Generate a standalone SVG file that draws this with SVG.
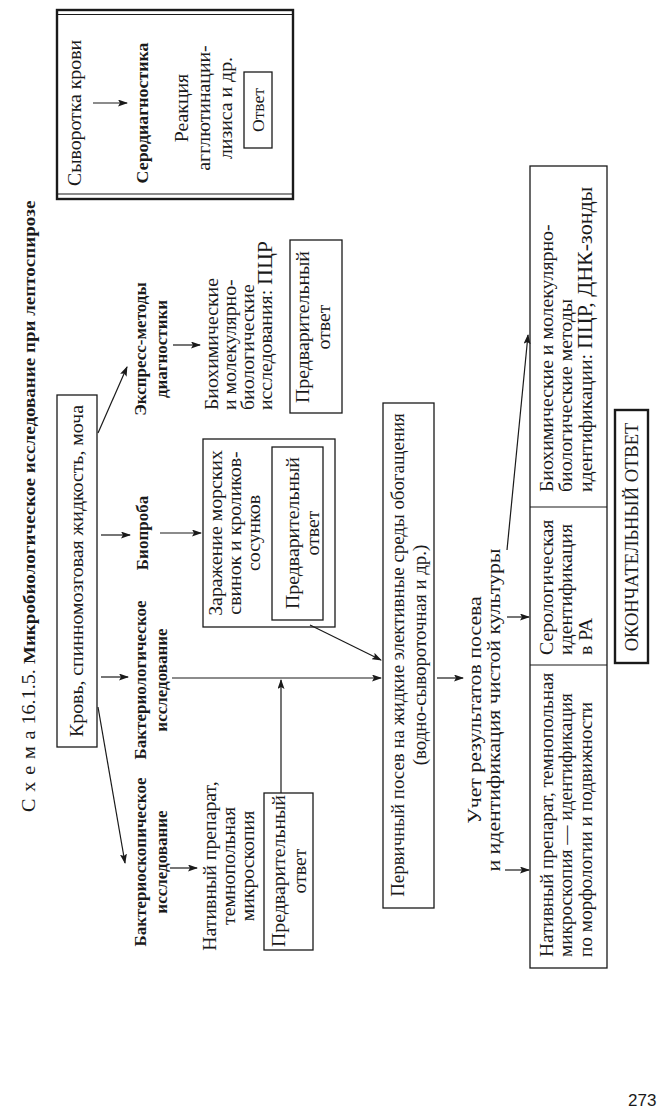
<svg xmlns="http://www.w3.org/2000/svg" width="669" height="1117" viewBox="0 0 669 1117">
<defs>
<marker id="ah" markerUnits="userSpaceOnUse" markerWidth="10" markerHeight="7" refX="9" refY="3.5" orient="auto">
<path d="M0,0 L10,3.5 L0,7 L2,3.5 z" fill="#1a1a1a"/>
</marker>
<style>
.r{font-family:"Liberation Serif","DejaVu Serif",serif;font-size:18px;fill:#1a1a1a}
.b{font-family:"Liberation Serif","DejaVu Serif",serif;font-size:17px;font-weight:bold;fill:#1a1a1a}
.s{font-size:16px}
.big{font-size:20px}
.box{fill:none;stroke:#1a1a1a;stroke-width:1.3}
.thick{fill:none;stroke:#1a1a1a;stroke-width:2.4}
.c line{stroke:#1a1a1a;stroke-width:1.2;marker-end:url(#ah)}
</style>
</defs>
<rect width="669" height="1117" fill="#fff"/>

<g id="title">
<text class="r" transform="translate(35,812) rotate(-90) scale(1.12,1)"><tspan letter-spacing="0.8">С х е м а</tspan> 16.1.5. <tspan class="b" style="font-size:17px">Микробиологическое исследование при лептоспирозе</tspan></text>
</g>

<g id="serodiagnostics">
<rect class="thick" x="57" y="10" width="236" height="189"/>
<line x1="57" y1="14.5" x2="293" y2="14.5" stroke="#1a1a1a" stroke-width="1.2"/>
<line x1="57" y1="194" x2="293" y2="194" stroke="#1a1a1a" stroke-width="1.2"/>
<text class="r" text-anchor="middle" transform="translate(81,113) rotate(-90) scale(1.1,1)">Сыворотка крови</text>
<text class="b" text-anchor="middle" transform="translate(148,113) rotate(-90) scale(1.05,1)">Серодиагностика</text>
<text class="r" text-anchor="middle" transform="translate(188,108) rotate(-90) scale(1.1,1)"><tspan x="0" y="0">Реакция</tspan><tspan x="0" dy="22">агглютинации-</tspan><tspan x="0" dy="22">лизиса и др.</tspan></text>
<rect class="box" x="244" y="72" width="28" height="76"/>
<text class="r s" text-anchor="middle" transform="translate(264,110) rotate(-90) scale(1.1,1)">Ответ</text>
</g>

<g id="source">
<rect class="box" x="57" y="395" width="40" height="352"/>
<text class="r" text-anchor="middle" transform="translate(83,571) rotate(-90) scale(1.1,1)">Кровь, спинномозговая жидкость, моча</text>
</g>

<g id="express">
<text class="b" text-anchor="middle" transform="translate(146,349) rotate(-90)"><tspan x="0" y="0">Экспресс-методы</tspan><tspan x="0" dy="21">диагностики</tspan></text>
</g>
<g id="bioproba">
<text class="b" text-anchor="middle" transform="translate(148,533) rotate(-90)">Биопроба</text>
</g>
<g id="bacteriological">
<text class="b" text-anchor="middle" transform="translate(146,680) rotate(-90)"><tspan x="0" y="0">Бактериологическое</tspan><tspan x="0" dy="21">исследование</tspan></text>
</g>
<g id="bacterioscopic">
<text class="b" text-anchor="middle" transform="translate(146,862) rotate(-90)"><tspan x="0" y="0">Бактериоскопическое</tspan><tspan x="0" dy="21">исследование</tspan></text>
</g>

<g id="express-methods">
<text class="r" transform="translate(218,410) rotate(-90) scale(1.1,1)"><tspan x="0" y="0">Биохимические</tspan><tspan x="0" dy="18">и молекулярно-</tspan><tspan x="0" dy="18">биологические</tspan><tspan x="0" dy="18">исследования: <tspan class="big">ПЦР</tspan></tspan></text>
</g>
<g id="express-answer">
<rect class="box" x="290" y="240" width="52" height="173"/>
<text class="r" text-anchor="middle" transform="translate(309,327) rotate(-90) scale(1.1,1)"><tspan x="0" y="0">Предварительный</tspan><tspan x="0" dy="21">ответ</tspan></text>
</g>

<g id="infection">
<rect class="box" x="203" y="439" width="132" height="188"/>
<text class="r" text-anchor="middle" transform="translate(222,533) rotate(-90) scale(1.1,1)"><tspan x="0" y="0">Заражение морских</tspan><tspan x="0" dy="19">свинок и кроликов-</tspan><tspan x="0" dy="19">сосунков</tspan></text>
<rect class="box" x="272" y="447" width="51" height="173"/>
<text class="r" text-anchor="middle" transform="translate(299,533) rotate(-90) scale(1.1,1)"><tspan x="0" y="0">Предварительный</tspan><tspan x="0" dy="20">ответ</tspan></text>
</g>

<g id="native-prep">
<text class="r" text-anchor="middle" transform="translate(216,866) rotate(-90) scale(1.1,1)"><tspan x="0" y="0">Нативный препарат,</tspan><tspan x="0" dy="19">темнопольная</tspan><tspan x="0" dy="19">микроскопия</tspan></text>
</g>
<g id="native-answer">
<rect class="box" x="264" y="793" width="49" height="157"/>
<text class="r" text-anchor="middle" transform="translate(285,871) rotate(-90) scale(1.1,1)"><tspan x="0" y="0">Предварительный</tspan><tspan x="0" dy="21">ответ</tspan></text>
</g>

<g id="primary">
<rect class="box" x="383" y="403" width="51" height="505"/>
<text class="r" text-anchor="middle" transform="translate(404,655) rotate(-90) scale(1.05,1)"><tspan x="0" y="0">Первичный посев на жидкие элективные среды обогащения</tspan><tspan x="0" dy="22">(водно-сывороточная и др.)</tspan></text>
</g>

<g id="results">
<text class="r" text-anchor="middle" style="font-size:19px" transform="translate(481,710) rotate(-90) scale(1.15,1)"><tspan x="0" y="0">Учет результатов посева</tspan><tspan x="0" dy="19.5">и идентификация чистой культуры</tspan></text>
</g>

<g id="identification">
<rect class="box" x="530" y="166" width="77" height="802"/>
<line x1="530" y1="507" x2="607" y2="507" stroke="#1a1a1a" stroke-width="1.2"/>
<line x1="530" y1="665" x2="607" y2="665" stroke="#1a1a1a" stroke-width="1.2"/>
<text class="r" transform="translate(553,492) rotate(-90) scale(1.1,1)"><tspan x="0" y="0">Биохимические и молекулярно-</tspan><tspan x="0" dy="19.5">биологические методы</tspan><tspan x="0" dy="19.5">идентификации: <tspan class="big">ПЦР, ДНК-зонды</tspan></tspan></text>
<text class="r" transform="translate(553,655) rotate(-90) scale(1.1,1)"><tspan x="0" y="0">Серологическая</tspan><tspan x="0" dy="19.5">идентификация</tspan><tspan x="0" dy="19.5">в РА</tspan></text>
<text class="r" transform="translate(553,957) rotate(-90) scale(1.07,1)"><tspan x="0" y="0">Нативный препарат, темнопольная</tspan><tspan x="0" dy="19.5">микроскопия — идентификация</tspan><tspan x="0" dy="19.5">по морфологии и подвижности</tspan></text>
</g>

<g id="final">
<rect class="thick" x="615" y="410" width="33" height="253"/>
<text class="r" text-anchor="middle" style="font-size:18px" transform="translate(638,537) rotate(-90) scale(1.03,1)">ОКОНЧАТЕЛЬНЫЙ ОТВЕТ</text>
</g>

<g id="page-number">
<text x="628" y="1106" style="font-family:'Liberation Sans',sans-serif;font-size:17px;fill:#1a1a1a">273</text>
</g>

<g id="connectors" class="c">
<line x1="93" y1="103" x2="127" y2="103"/>
<line x1="98" y1="433" x2="127" y2="367"/>
<line x1="101" y1="535" x2="130" y2="535"/>
<line x1="101" y1="677" x2="128" y2="677"/>
<line x1="98" y1="707" x2="125" y2="863"/>
<line x1="173" y1="345" x2="200" y2="345"/>
<line x1="160" y1="533" x2="201" y2="533"/>
<line x1="170" y1="868" x2="197" y2="868"/>
<line x1="172" y1="678" x2="381" y2="678"/>
<line x1="281" y1="793" x2="281" y2="680"/>
<line x1="310" y1="625" x2="381" y2="660"/>
<line x1="437" y1="678" x2="463" y2="678"/>
<line x1="505" y1="870" x2="529" y2="870"/>
<line x1="507" y1="617" x2="529" y2="617"/>
<line x1="507" y1="550" x2="528" y2="335"/>
</g>
</svg>
